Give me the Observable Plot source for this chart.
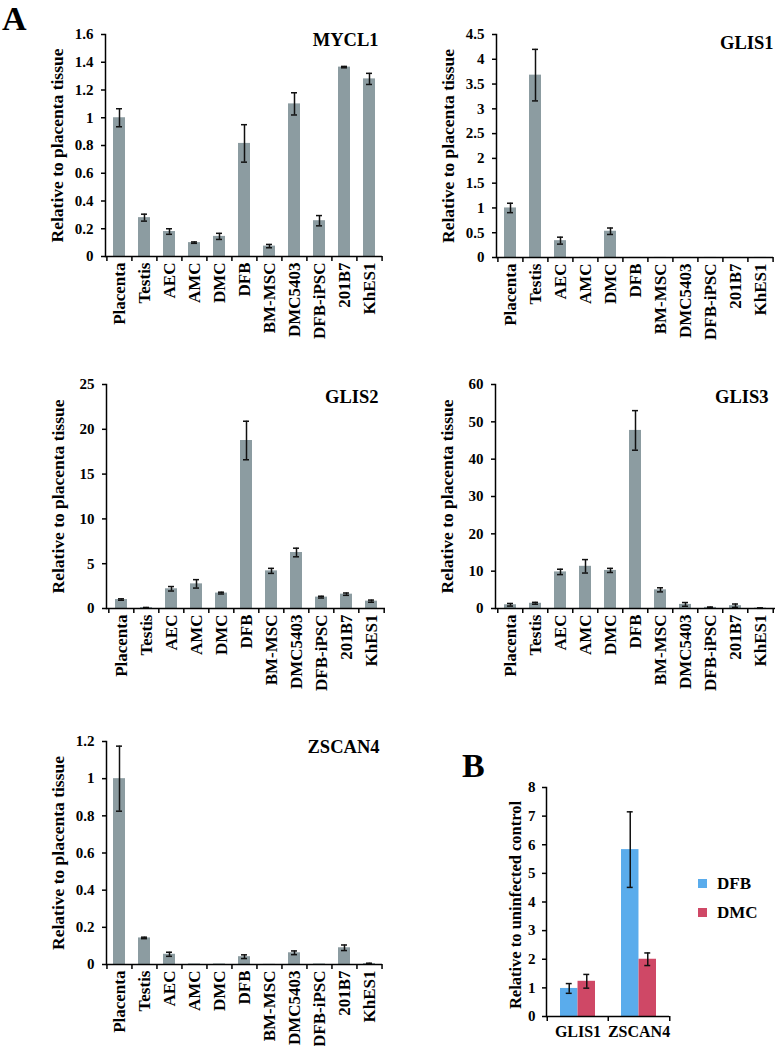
<!DOCTYPE html>
<html><head><meta charset="utf-8">
<script src="https://cdn.jsdelivr.net/npm/d3@7"></script>
<script src="https://cdn.jsdelivr.net/npm/@observablehq/plot@0.6"></script>
<style>
body{margin:0;background:#fff;}
#root{position:relative;width:777px;height:1046px;font-family:"Liberation Serif","Times New Roman",serif;font-weight:bold;color:#000;}
.panel{position:absolute;}
.letter{position:absolute;font-size:34px;line-height:38px;font-weight:bold;}
.leg{position:absolute;font-size:17px;line-height:17px;font-weight:bold;display:flex;align-items:center;}
.leg span.sw{display:inline-block;width:9px;height:9px;margin-right:10px;}
</style></head><body><div id="root"></div>
<script>
// ---- data ----
const categories = ["Placenta","Testis","AEC","AMC","DMC","DFB","BM-MSC","DMC5403","DFB-iPSC","201B7","KhES1"];

const mycl1Values = [1.0, 0.28, 0.18, 0.1, 0.145, 0.815, 0.075, 1.1, 0.258, 1.365, 1.28];
const mycl1Errors = [0.065, 0.025, 0.02, 0.005, 0.022, 0.135, 0.012, 0.08, 0.037, 0.005, 0.04];
const mycl1Ticks = [0, 0.2, 0.4, 0.6, 0.8, 1, 1.2, 1.4, 1.6];

const glis1Values = [1.0, 3.68, 0.34, 0.003, 0.53, 0.002, 0.002, 0.002, 0.002, 0.002, 0.002];
const glis1Errors = [0.095, 0.52, 0.07, 0, 0.065, 0, 0, 0, 0, 0, 0];
const glis1Ticks = [0, 0.5, 1, 1.5, 2, 2.5, 3, 3.5, 4, 4.5];

const glis2Values = [1.0, 0.1, 2.2, 2.75, 1.72, 18.75, 4.2, 6.25, 1.27, 1.6, 0.82];
const glis2Errors = [0.08, 0.02, 0.25, 0.47, 0.1, 2.15, 0.28, 0.48, 0.1, 0.13, 0.12];
const glis2Ticks = [0, 5, 10, 15, 20, 25];

const glis3Values = [1.0, 1.4, 9.8, 11.3, 10.2, 47.7, 5.0, 1.1, 0.3, 0.75, 0.1];
const glis3Errors = [0.35, 0.25, 0.72, 1.8, 0.55, 5.3, 0.55, 0.5, 0.1, 0.45, 0.05];
const glis3Ticks = [0, 10, 20, 30, 40, 50, 60];

const zscan4Values = [1.0, 0.143, 0.055, 0.003, 0.003, 0.042, 0.001, 0.063, 0.003, 0.09, 0.005];
const zscan4Errors = [0.175, 0.004, 0.011, 0, 0, 0.01, 0, 0.01, 0, 0.015, 0.002];
const zscan4Ticks = [0, 0.2, 0.4, 0.6, 0.8, 1, 1.2];

const bGenes = ["GLIS1", "ZSCAN4"];
const bSeries = ["DFB", "DMC"];
const bDFBValues = [0.98, 5.83];
const bDFBErrors = [0.17, 1.32];
const bDMCValues = [1.23, 2.0];
const bDMCErrors = [0.24, 0.22];
const bTicks = [0, 1, 2, 3, 4, 5, 6, 7, 8];

const yLabelA = "Relative to placenta tissue";
const yLabelB = "Relative to uninfected control";

// ---- style ----
const barColor = "#8c9ca1";
const seriesColors = ["#5aacec", "#cf4866"];
const FONT = "'Liberation Serif','Times New Roman',serif";
const fmt = d3.format("~g");
const root = document.getElementById("root");

function place(node, left, top) {
  const d = document.createElement("div");
  d.className = "panel";
  d.style.left = left + "px";
  d.style.top = top + "px";
  d.appendChild(node);
  root.appendChild(d);
}

function barPanel(o) {
  const data = categories.map((c, i) => ({c, v: o.values[i], e: o.errors[i]}));
  const withErr = data.filter(d => d.e > 0);
  const step = (o.width - o.ml - o.mr) / categories.length;
  const chart = Plot.plot({
    width: o.width, height: o.height,
    marginTop: o.mt, marginBottom: o.mb, marginLeft: o.ml, marginRight: o.mr,
    style: {fontFamily: FONT, fontWeight: "bold", fontSize: "15px", color: "#000", background: "transparent", overflow: "visible"},
    x: {domain: categories, paddingInner: 0.52, paddingOuter: 0.26, label: null},
    y: {domain: [o.ticks[0], o.ticks[o.ticks.length - 1]], label: null},
    marks: [
      Plot.barY(data, {x: "c", y: "v", fill: barColor}),
      Plot.ruleX(withErr, {x: "c", y1: d => d.v - d.e, y2: d => d.v + d.e, stroke: "#111", strokeWidth: 1.5}),
      Plot.tickY(withErr, {x: "c", y: d => d.v - d.e, stroke: "#111", strokeWidth: 1.5, insetLeft: 3, insetRight: 3}),
      Plot.tickY(withErr, {x: "c", y: d => d.v + d.e, stroke: "#111", strokeWidth: 1.5, insetLeft: 3, insetRight: 3}),
      Plot.ruleY([0], {stroke: "#000", strokeWidth: 1.5}),
      Plot.frame({anchor: "left", stroke: "#000", strokeWidth: 1.5}),
      Plot.axisY({ticks: o.ticks, tickSize: 4, tickFormat: () => "", label: null, strokeWidth: 1.5}),
      Plot.text(o.ticks, {y: d => d, frameAnchor: "left", textAnchor: "end", dx: -12, text: d => fmt(d), fontSize: 15, fontWeight: "bold"}),
      Plot.text(categories, {x: d => d, frameAnchor: "bottom", rotate: -90, textAnchor: "end", lineAnchor: "middle", dy: 6, fontSize: 17, fontWeight: "bold"}),
      Plot.axisX({tickSize: 5, tickFormat: () => "", dx: -step / 2, label: null, strokeWidth: 1.5}),
      Plot.axisX({ticks: [categories[categories.length - 1]], tickSize: 5, tickFormat: () => "", dx: step / 2, label: null, strokeWidth: 1.5}),
      Plot.text([o.title], {frameAnchor: "top-right", textAnchor: "end", lineAnchor: "middle", dx: o.tdx, dy: o.tdy, fontSize: 18.5, fontWeight: "bold"}),
      Plot.text([yLabelA], {frameAnchor: "left", rotate: -90, textAnchor: "middle", lineAnchor: "middle", dx: -48, fontSize: 17.5, fontWeight: "bold"})
    ]
  });
  place(chart, o.left, o.top);
}

barPanel({values: mycl1Values, errors: mycl1Errors, ticks: mycl1Ticks, title: "MYCL1",
  left: 0, top: 0, width: 390, height: 345, mt: 34, mb: 89, ml: 105, mr: 8, tdx: -4, tdy: 6});
barPanel({values: glis1Values, errors: glis1Errors, ticks: glis1Ticks, title: "GLIS1",
  left: 390, top: 0, width: 387, height: 345, mt: 34, mb: 88, ml: 106, mr: 4, tdx: 0, tdy: 9});
barPanel({values: glis2Values, errors: glis2Errors, ticks: glis2Ticks, title: "GLIS2",
  left: 0, top: 350, width: 390, height: 345, mt: 34, mb: 87, ml: 106, mr: 5, tdx: -7, tdy: 13});
barPanel({values: glis3Values, errors: glis3Errors, ticks: glis3Ticks, title: "GLIS3",
  left: 390, top: 350, width: 387, height: 345, mt: 34, mb: 87, ml: 105, mr: 2, tdx: -7, tdy: 13});
barPanel({values: zscan4Values, errors: zscan4Errors, ticks: zscan4Ticks, title: "ZSCAN4",
  left: 0, top: 700, width: 390, height: 346, mt: 41, mb: 82, ml: 106, mr: 8, tdx: -3, tdy: 6});

// ---- panel B ----
(function () {
  const width = 337, height = 386, ml = 106, mr = 108, mt = 127, mb = 30;
  const step = (width - ml - mr) / bGenes.length;
  const bw = step * (1 - 0.43);
  const half = bw / 2;
  const cap = 3;
  const dfb = bGenes.map((g, i) => ({g, v: bDFBValues[i], e: bDFBErrors[i]}));
  const dmc = bGenes.map((g, i) => ({g, v: bDMCValues[i], e: bDMCErrors[i]}));
  const errMarks = (data, left) => {
    const off = left ? -half / 2 : half / 2;
    const iL = left ? half / 2 - cap : half + half / 2 - cap;
    const iR = bw - iL - 2 * cap;
    return [
      Plot.ruleX(data, {x: "g", y1: d => d.v - d.e, y2: d => d.v + d.e, dx: off, stroke: "#111", strokeWidth: 1.5}),
      Plot.tickY(data, {x: "g", y: d => d.v - d.e, insetLeft: iL, insetRight: iR, stroke: "#111", strokeWidth: 1.5}),
      Plot.tickY(data, {x: "g", y: d => d.v + d.e, insetLeft: iL, insetRight: iR, stroke: "#111", strokeWidth: 1.5})
    ];
  };
  const chart = Plot.plot({
    width, height, marginTop: mt, marginBottom: mb, marginLeft: ml, marginRight: mr,
    style: {fontFamily: FONT, fontWeight: "bold", fontSize: "15px", color: "#000", background: "transparent", overflow: "visible"},
    x: {domain: bGenes, paddingInner: 0.43, paddingOuter: 0.215, label: null},
    y: {domain: [0, 8], label: null},
    marks: [
      Plot.barY(dfb, {x: "g", y: "v", fill: seriesColors[0], insetRight: half}),
      Plot.barY(dmc, {x: "g", y: "v", fill: seriesColors[1], insetLeft: half}),
      ...errMarks(dfb, true),
      ...errMarks(dmc, false),
      Plot.ruleY([0], {stroke: "#000", strokeWidth: 1.5}),
      Plot.frame({anchor: "left", stroke: "#000", strokeWidth: 1.5}),
      Plot.axisY({ticks: bTicks, tickSize: 4, tickFormat: () => "", label: null, strokeWidth: 1.5}),
      Plot.text(bTicks, {y: d => d, frameAnchor: "left", textAnchor: "end", dx: -11, text: d => fmt(d), fontSize: 15, fontWeight: "bold"}),
      Plot.text(bGenes, {x: d => d, frameAnchor: "bottom", textAnchor: "middle", lineAnchor: "top", dy: 9, fontSize: 16, fontWeight: "bold"}),
      Plot.axisX({tickSize: 5, tickFormat: () => "", dx: -step / 2, label: null, strokeWidth: 1.5}),
      Plot.axisX({ticks: [bGenes[bGenes.length - 1]], tickSize: 5, tickFormat: () => "", dx: step / 2, label: null, strokeWidth: 1.5}),
      Plot.text([yLabelB], {frameAnchor: "left", rotate: -90, textAnchor: "middle", lineAnchor: "middle", dx: -31, dy: 3, fontSize: 16.5, fontWeight: "bold"})
    ]
  });
  place(chart, 440, 660);
})();

// legend
bSeries.forEach((s, i) => {
  const d = document.createElement("div");
  d.className = "leg";
  d.style.left = "698px";
  d.style.top = (875 + i * 29) + "px";
  const sw = document.createElement("span");
  sw.className = "sw";
  sw.style.background = seriesColors[i];
  d.appendChild(sw);
  d.appendChild(document.createTextNode(s));
  root.appendChild(d);
});

// panel letters
[["A", 2, 0], ["B", 462, 747]].forEach(([t, l, tp]) => {
  const d = document.createElement("div");
  d.className = "letter";
  d.style.left = l + "px";
  d.style.top = tp + "px";
  d.textContent = t;
  root.appendChild(d);
});
</script>
</body></html>
